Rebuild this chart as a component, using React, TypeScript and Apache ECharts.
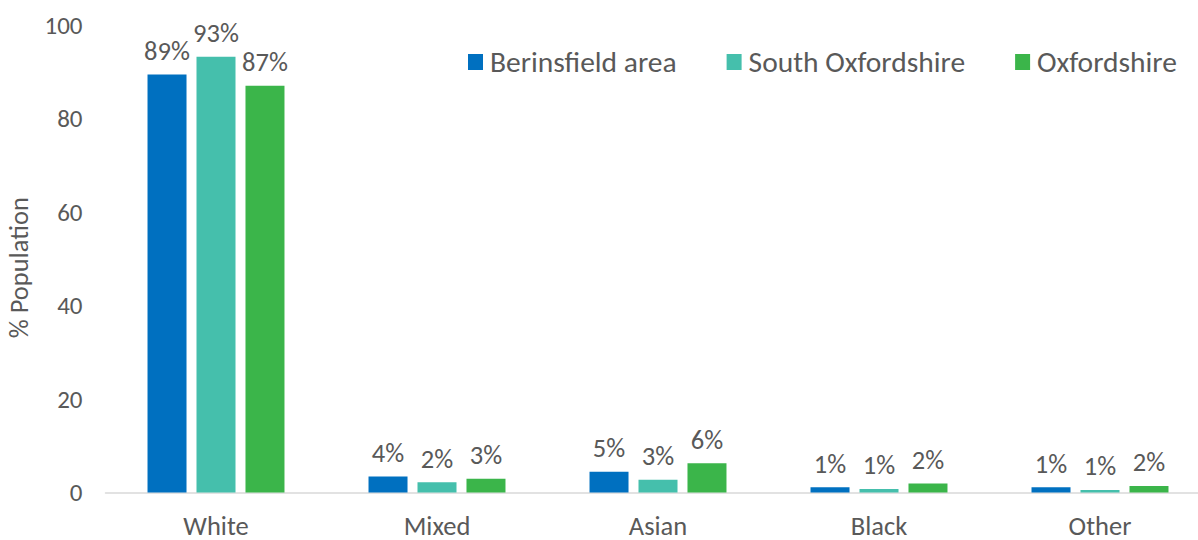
import React, { useEffect, useRef } from "react";
import * as echarts from "echarts";

const categories = ["White", "Mixed", "Asian", "Black", "Other"];
const seriesNames = ["Berinsfield area", "South Oxfordshire", "Oxfordshire"];
const berinsfield = [89.4, 3.4, 4.45, 1.1, 1.1];
const southOxon = [93.2, 2.2, 2.75, 0.75, 0.55];
const oxfordshire = [87.0, 2.95, 6.25, 1.95, 1.4];
const berinsfieldLabels = ["89%", "4%", "5%", "1%", "1%"];
const southOxonLabels = ["93%", "2%", "3%", "1%", "1%"];
const oxfordshireLabels = ["87%", "3%", "6%", "2%", "2%"];
const colors = ["#0070C0", "#45BFAC", "#3BB54A"];

const FONT = "Carlito, Lato, 'Open Sans', sans-serif";
const TEXT = "#595959";

export default function App() {
  const ref = useRef<HTMLDivElement>(null);
  useEffect(() => {
    if (!ref.current) return;
    const chart = echarts.init(ref.current, undefined, { renderer: "svg" });
    const values = [berinsfield, southOxon, oxfordshire];
    const labels = [berinsfieldLabels, southOxonLabels, oxfordshireLabels];
    chart.setOption({
      animation: false,
      color: colors,
      textStyle: { fontFamily: FONT, color: TEXT },
      grid: {
        left: 105.5,
        right: -12.5,
        top: 25,
        bottom: 47.5,
        containLabel: false,
        outerBoundsMode: "none",
      },
      legend: {
        top: 42,
        left: 463,
        itemWidth: 15,
        itemHeight: 16,
        itemGap: 50,
        icon: "rect",
        data: seriesNames,
        textStyle: { fontFamily: FONT, fontSize: 29.5, color: TEXT, padding: [0, 0, 0, 2] },
      },
      xAxis: {
        type: "category",
        data: categories,
        axisLine: { show: true, lineStyle: { color: "#D9D9D9", width: 1.5 } },
        axisTick: { show: false },
        axisLabel: { fontFamily: FONT, fontSize: 26.5, lineHeight: 26, color: TEXT, margin: 20 },
      },
      yAxis: {
        type: "value",
        min: 0,
        max: 100,
        interval: 20,
        name: "% Population",
        nameLocation: "middle",
        nameGap: 73,
        nameTextStyle: { fontFamily: FONT, fontSize: 26.5, color: TEXT, padding: [0, 18, 0, 0] },
        splitLine: { show: false },
        axisLine: { show: false },
        axisTick: { show: false },
        axisLabel: { fontFamily: FONT, fontSize: 25, color: TEXT, margin: 23 },
      },
      series: seriesNames.map((name, i) => ({
        name,
        type: "bar",
        barWidth: 39,
        barGap: "25.6%",
        data: values[i],
        itemStyle: { color: colors[i] },
        label: {
          show: true,
          position: "top",
          distance: 10,
          fontFamily: FONT,
          fontSize: 26.5,
          color: TEXT,
          formatter: (p: any) => labels[i][p.dataIndex],
        },
      })),
    });
    return () => chart.dispose();
  }, []);
  return (
    <div
      ref={ref}
      style={{ position: "absolute", left: 0, top: 0, width: 1198, height: 540, background: "#fff" }}
    />
  );
}
